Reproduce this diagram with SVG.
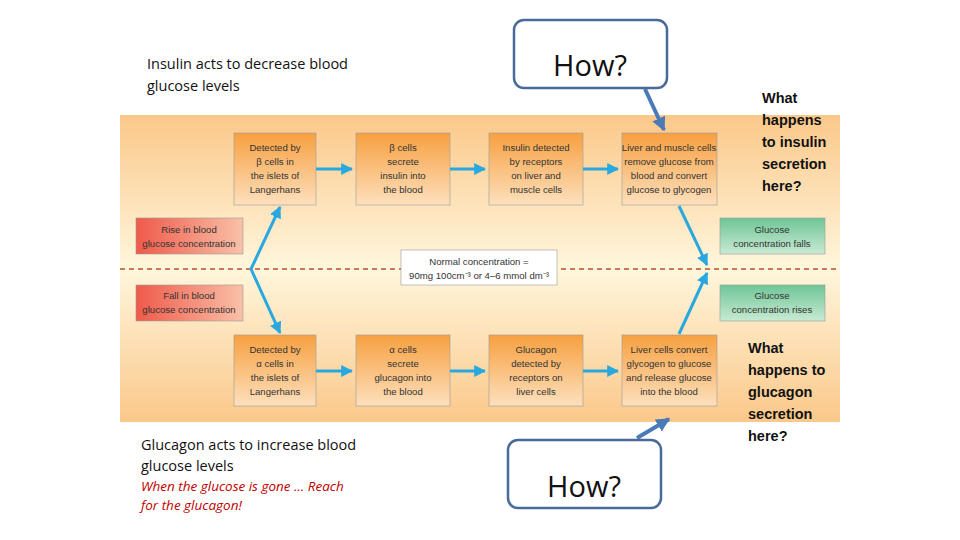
<svg xmlns="http://www.w3.org/2000/svg" width="960" height="540" viewBox="0 0 960 540">
<defs>
<linearGradient id="bg" x1="0" y1="0" x2="0" y2="1">
<stop offset="0" stop-color="#fbc88a"/><stop offset="0.5" stop-color="#fff6dc"/><stop offset="1" stop-color="#fbc88a"/></linearGradient>
<linearGradient id="or" x1="0" y1="0" x2="0" y2="1"><stop offset="0" stop-color="#f7a040"/><stop offset="1" stop-color="#fde0bd"/></linearGradient>
<linearGradient id="rd" x1="0" y1="0" x2="1" y2="0"><stop offset="0" stop-color="#ef5a4a"/><stop offset="1" stop-color="#f9c0a8"/></linearGradient>
<linearGradient id="gr" x1="0" y1="0" x2="0" y2="1"><stop offset="0" stop-color="#6fc596"/><stop offset="1" stop-color="#c8ead4"/></linearGradient>
<marker id="ah" viewBox="0 0 10 10" refX="9" refY="5" markerWidth="4" markerHeight="4" orient="auto"><path d="M0,0L10,5L0,10z" fill="#29a8e0"/></marker>
<marker id="bh" viewBox="0 0 10 10" refX="9" refY="5" markerWidth="3.5" markerHeight="3.5" orient="auto"><path d="M0,0L10,5L0,10z" fill="#4a7ab8"/></marker>
<style>
.t{font-family:"Liberation Sans",sans-serif;font-size:9.6px;fill:#333;text-anchor:middle}
.b{stroke:#999;stroke-width:0.6}
.c{stroke:#29a8e0;stroke-width:3;fill:none;marker-end:url(#ah)}
.q{font-family:"Open Sans","Liberation Sans",sans-serif;font-size:14.5px;fill:#111}
.h{font-family:"Liberation Sans",sans-serif;font-size:14.5px;fill:#111;font-weight:bold}
.how{fill:#fff;stroke:#4a6a9a;stroke-width:2.5}
.hw{font-family:"Open Sans","Liberation Sans",sans-serif;font-size:29px;text-anchor:middle;fill:#111}
.r{fill:#c00000;font-style:italic;font-size:13.5px}
</style>
</defs>
<rect x="120" y="115" width="720" height="307" fill="url(#bg)"/>
<line x1="120" y1="269" x2="840" y2="269" stroke="#b8522a" stroke-width="1.5" stroke-dasharray="5,4"/>
<g id="top1"><rect class="b" x="234" y="133" width="82" height="72" fill="url(#or)"/><text class="t" x="275" y="151">Detected by<tspan x="275" dy="14">β cells in</tspan><tspan x="275" dy="14">the islets of</tspan><tspan x="275" dy="14">Langerhans</tspan></text></g>
<g id="top2"><rect class="b" x="356" y="133" width="94" height="72" fill="url(#or)"/><text class="t" x="403" y="151">β cells<tspan x="403" dy="14">secrete</tspan><tspan x="403" dy="14">insulin into</tspan><tspan x="403" dy="14">the blood</tspan></text></g>
<g id="top3"><rect class="b" x="489" y="133" width="94" height="72" fill="url(#or)"/><text class="t" x="536" y="151">Insulin detected<tspan x="536" dy="14">by receptors</tspan><tspan x="536" dy="14">on liver and</tspan><tspan x="536" dy="14">muscle cells</tspan></text></g>
<g id="top4"><rect class="b" x="622" y="133" width="95" height="72" fill="url(#or)"/><text class="t" x="669" y="151">Liver and muscle cells<tspan x="669" dy="14">remove glucose from</tspan><tspan x="669" dy="14">blood and convert</tspan><tspan x="669" dy="14">glucose to glycogen</tspan></text></g>
<g id="bot1"><rect class="b" x="234" y="335" width="82" height="71" fill="url(#or)"/><text class="t" x="275" y="353">Detected by<tspan x="275" dy="14">α cells in</tspan><tspan x="275" dy="14">the islets of</tspan><tspan x="275" dy="14">Langerhans</tspan></text></g>
<g id="bot2"><rect class="b" x="356" y="335" width="94" height="71" fill="url(#or)"/><text class="t" x="403" y="353">α cells<tspan x="403" dy="14">secrete</tspan><tspan x="403" dy="14">glucagon into</tspan><tspan x="403" dy="14">the blood</tspan></text></g>
<g id="bot3"><rect class="b" x="489" y="335" width="94" height="71" fill="url(#or)"/><text class="t" x="536" y="353">Glucagon<tspan x="536" dy="14">detected by</tspan><tspan x="536" dy="14">receptors on</tspan><tspan x="536" dy="14">liver cells</tspan></text></g>
<g id="bot4"><rect class="b" x="622" y="335" width="95" height="71" fill="url(#or)"/><text class="t" x="669" y="353">Liver cells convert<tspan x="669" dy="14">glycogen to glucose</tspan><tspan x="669" dy="14">and release glucose</tspan><tspan x="669" dy="14">into the blood</tspan></text></g>
<g id="rise"><rect class="b" x="136" y="218" width="107" height="36" fill="url(#rd)"/><text class="t" x="189" y="233">Rise in blood<tspan x="189" dy="14">glucose concentration</tspan></text></g>
<g id="fall"><rect class="b" x="136" y="285" width="107" height="36" fill="url(#rd)"/><text class="t" x="189" y="299">Fall in blood<tspan x="189" dy="14">glucose concentration</tspan></text></g>
<g id="falls"><rect class="b" x="720" y="218" width="105" height="36" fill="url(#gr)"/><text class="t" x="772" y="233">Glucose<tspan x="772" dy="14">concentration falls</tspan></text></g>
<g id="rises"><rect class="b" x="720" y="285" width="105" height="36" fill="url(#gr)"/><text class="t" x="772" y="299">Glucose<tspan x="772" dy="14">concentration rises</tspan></text></g>
<g id="normal"><rect class="b" x="401" y="250" width="156" height="35" fill="#fff"/><text class="t" x="479" y="265">Normal concentration =<tspan x="479" dy="14">90mg 100cm⁻³ or 4–6 mmol dm⁻³</tspan></text></g>
<g id="connectors">
<path class="c" d="M316,169H352"/><path class="c" d="M450,169H485"/><path class="c" d="M583,169H618"/>
<path class="c" d="M316,371H352"/><path class="c" d="M450,371H485"/><path class="c" d="M583,371H618"/>
<path class="c" d="M251,269L280,207"/><path class="c" d="M251,269L280,333"/>
<path class="c" d="M679,206L707,265"/><path class="c" d="M679,334L707,273"/>
<path d="M645,89L664,130" stroke="#4a7ab8" stroke-width="4" marker-end="url(#bh)"/>
<path d="M637,438L669,419" stroke="#4a7ab8" stroke-width="4" marker-end="url(#bh)"/>
</g>
<g id="how1"><rect class="how" x="514" y="20" width="153" height="68" rx="10"/><text class="hw" x="590" y="76">How?</text></g>
<g id="how2"><rect class="how" x="508" y="440" width="153" height="68" rx="10"/><text class="hw" x="584" y="497">How?</text></g>
<text class="q" x="147" y="69">Insulin acts to decrease blood</text>
<text class="q" x="147" y="91">glucose levels</text>
<text class="q" x="141" y="450">Glucagon acts to increase blood</text>
<text class="q" x="141" y="471">glucose levels</text>
<text class="q r" x="141" y="491">When the glucose is gone … Reach</text>
<text class="q r" x="141" y="510">for the glucagon!</text>
<text class="h" x="762" y="103">What<tspan x="762" dy="22">happens</tspan><tspan x="762" dy="22">to insulin</tspan><tspan x="762" dy="22">secretion</tspan><tspan x="762" dy="22">here?</tspan></text>
<text class="h" x="748" y="353">What<tspan x="748" dy="22">happens to</tspan><tspan x="748" dy="22">glucagon</tspan><tspan x="748" dy="22">secretion</tspan><tspan x="748" dy="22">here?</tspan></text>
</svg>
